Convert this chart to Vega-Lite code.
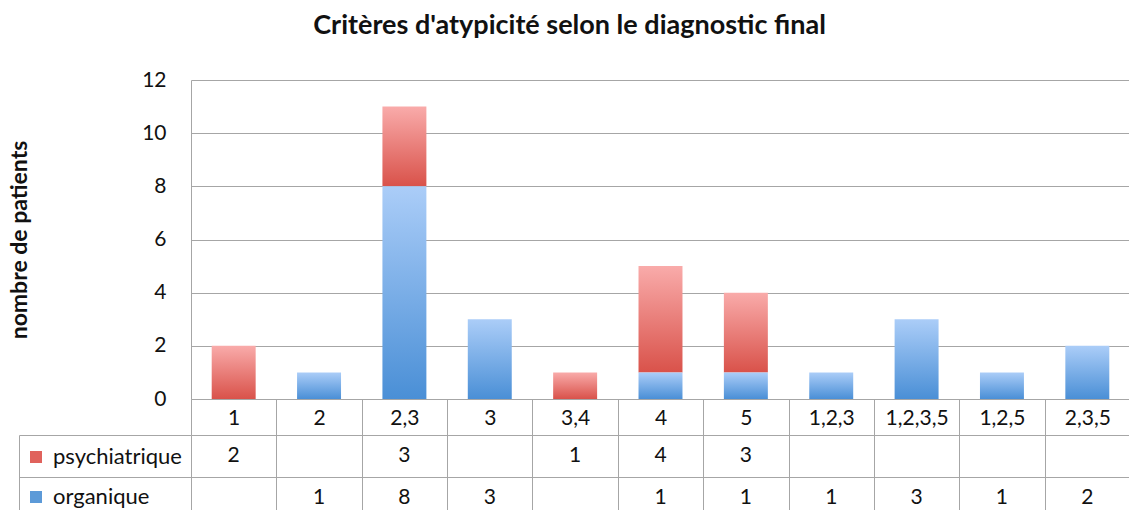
{
  "$schema": "https://vega.github.io/schema/vega-lite/v6.json",
  "padding": {"left": 8, "top": 12, "right": 0, "bottom": 0},
  "title": {"text": "Critères d'atypicité selon le diagnostic final", "fontSize": 27, "fontWeight": "bold", "color": "#111", "anchor": "middle", "offset": 29, "font": "Lato"},
  "config": {"font": "Lato", "view": {"stroke": null}},
  "datasets": {
    "d": [
      {"critere": "1", "diagnostic": "psychiatrique", "n": 2},
      {"critere": "2", "diagnostic": "organique", "n": 1},
      {"critere": "2,3", "diagnostic": "psychiatrique", "n": 3},
      {"critere": "2,3", "diagnostic": "organique", "n": 8},
      {"critere": "3", "diagnostic": "organique", "n": 3},
      {"critere": "3,4", "diagnostic": "psychiatrique", "n": 1},
      {"critere": "4", "diagnostic": "psychiatrique", "n": 4},
      {"critere": "4", "diagnostic": "organique", "n": 1},
      {"critere": "5", "diagnostic": "psychiatrique", "n": 3},
      {"critere": "5", "diagnostic": "organique", "n": 1},
      {"critere": "1,2,3", "diagnostic": "organique", "n": 1},
      {"critere": "1,2,3,5", "diagnostic": "organique", "n": 3},
      {"critere": "1,2,5", "diagnostic": "organique", "n": 1},
      {"critere": "2,3,5", "diagnostic": "organique", "n": 2}
    ]
  },
  "vconcat": [
    {
      "width": 939,
      "height": 319,
      "data": {"name": "d"},
      "mark": {"type": "bar", "width": {"band": 0.515}},
      "encoding": {
        "x": {"field": "critere", "type": "nominal",
          "scale": {"domain": ["1","2","2,3","3","3,4","4","5","1,2,3","1,2,3,5","1,2,5","2,3,5"], "paddingInner": 0, "paddingOuter": 0},
          "axis": {"title": null, "labelAngle": 0, "labelFontSize": 21, "labelColor": "#111", "domainColor": "#a6a6a6", "tickColor": "#a6a6a6", "tickBand": "extent", "tickSize": 36, "labelPadding": -28, "grid": false}},
        "y": {"field": "n", "type": "quantitative", "stack": "zero",
          "scale": {"domain": [0, 12], "nice": false},
          "axis": {"title": "nombre de patients", "titleFontSize": 23, "titleFontWeight": "bold", "titleColor": "#111", "titlePadding": 110, "values": [0,2,4,6,8,10,12], "labelFontSize": 21, "labelColor": "#111", "labelPadding": 25, "ticks": false, "domainColor": "#a6a6a6", "grid": true, "gridColor": "#a6a6a6"}},
        "detail": {"field": "diagnostic"},
        "order": {"field": "diagnostic", "sort": "ascending"},
        "fill": {
          "condition": {"test": "datum.diagnostic === 'psychiatrique'", "value": {"gradient": "linear", "x1": 0, "y1": 0, "x2": 0, "y2": 1, "stops": [{"offset": 0, "color": "#f9abaa"}, {"offset": 1, "color": "#d9524a"}]}},
          "value": {"gradient": "linear", "x1": 0, "y1": 0, "x2": 0, "y2": 1, "stops": [{"offset": 0, "color": "#abcdf8"}, {"offset": 1, "color": "#4a8fd6"}]}
        }
      }
    },
    {
      "width": 939,
      "height": 84,
      "data": {"name": "d"},
      "layer": [
        {
          "mark": {"type": "text", "fontSize": 21, "color": "#111", "baseline": "middle"},
          "encoding": {
            "x": {"field": "critere", "type": "nominal",
              "scale": {"domain": ["1","2","2,3","3","3,4","4","5","1,2,3","1,2,3,5","1,2,5","2,3,5"], "paddingInner": 0, "paddingOuter": 0},
              "axis": {"title": null, "labels": false, "ticks": false, "domain": false, "grid": true, "gridColor": "#a6a6a6", "tickBand": "extent"}},
            "y": {"field": "diagnostic", "type": "nominal",
              "scale": {"domain": ["psychiatrique", "organique"], "paddingInner": 0, "paddingOuter": 0},
              "axis": {"title": null, "orient": "left", "labels": false, "domain": false, "ticks": true, "tickSize": 172, "tickColor": "#a6a6a6", "tickBand": "extent", "grid": true, "gridColor": "#a6a6a6"}},
            "text": {"field": "n", "type": "quantitative"}
          }
        },
        {
          "mark": {"type": "square", "opacity": 0},
          "encoding": {
            "x": {"field": "critere", "type": "nominal"},
            "y": {"field": "diagnostic", "type": "nominal",
              "axis": {"title": null, "orient": "left", "offset": 172, "labels": false, "ticks": false, "domain": true, "domainColor": "#a6a6a6", "grid": false}},
            "color": {"field": "diagnostic", "type": "nominal",
              "scale": {"domain": ["psychiatrique", "organique"], "range": ["#e0625c", "#5c9ad8"]},
              "legend": {"title": null, "orient": "none", "legendX": -166, "legendY": 366, "symbolType": "square", "symbolSize": 144, "symbolOpacity": 1, "symbolStrokeWidth": 0, "labelFontSize": 22, "labelColor": "#111", "labelOffset": 6, "rowPadding": 18}}
          }
        }
      ],
      "resolve": {"axis": {"y": "independent"}}
    }
  ],
  "bounds": "flush",
  "spacing": 36
}
